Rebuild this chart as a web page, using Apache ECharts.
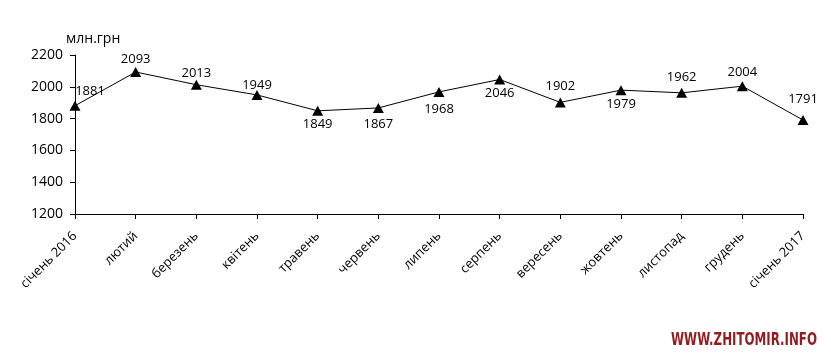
<!DOCTYPE html>
<html>
<head>
<meta charset="utf-8">
<script src="https://cdn.jsdelivr.net/npm/echarts@6/dist/echarts.min.js"></script>
<style>html,body{margin:0;padding:0;background:#fff}#c{width:831px;height:357px}</style>
</head>
<body>
<div id="c"></div>
<script>
const categories = ['січень 2016','лютий','березень','квітень','травень','червень','липень','серпень','вересень','жовтень','листопад','грудень','січень 2017'];
const values = [1881, 2093, 2013, 1949, 1849, 1867, 1968, 2046, 1902, 1979, 1962, 2004, 1791];
const yTicks = [1200, 1400, 1600, 1800, 2000, 2200];

// label placement styling (side of point and extra gap in px)
const labelSide = ['topright','top','top','top','bottom','bottom','bottom','bottom','top','bottom','top','top','top'];
const labelGap = [0, 1, 0, -2, 2, 5, 6, 2, 5, 3, 4, 2, 9];

const font = '"Open Sans", "Noto Sans", sans-serif';
const data = values.map((v, i) => {
  const p = labelSide[i];
  let label;
  if (p === 'topright') label = {position: 'top', offset: [15, 2]};
  else if (p === 'top') label = {position: 'top', distance: labelGap[i]};
  else label = {position: 'bottom', distance: labelGap[i]};
  return {value: v, label};
});

const chart = echarts.init(document.getElementById('c'));
chart.setOption({
  animation: false,
  backgroundColor: '#fff',
  title: {
    text: 'млн.грн', left: 61, top: 27,
    textStyle: {fontFamily: font, fontSize: 14, fontWeight: 'normal', color: '#000'}
  },
  grid: {left: 75, right: 28, top: 55, bottom: 143, containLabel: false},
  xAxis: {
    type: 'category', data: categories, boundaryGap: false,
    axisLine: {lineStyle: {color: '#000', width: 1}},
    axisTick: {show: true, length: 5, lineStyle: {color: '#000'}},
    axisLabel: {rotate: 45, interval: 0, margin: 20, fontFamily: font, fontSize: 13, color: '#000'}
  },
  yAxis: {
    type: 'value', min: yTicks[0], max: yTicks[yTicks.length - 1], interval: 200,
    axisLine: {show: true, lineStyle: {color: '#000', width: 1}},
    axisTick: {show: true, length: 5, lineStyle: {color: '#000'}},
    splitLine: {show: false},
    axisLabel: {margin: 12, fontFamily: font, fontSize: 14, color: '#000', formatter: v => String(v)}
  },
  series: [{
    type: 'line', data,
    symbol: 'triangle', symbolSize: [11, 10],
    itemStyle: {color: '#000'},
    lineStyle: {color: '#000', width: 1},
    label: {show: true, fontFamily: font, fontSize: 13, color: '#000'}
  }],
  graphic: [{
    type: 'text', x: 817, y: 349, scaleX: 0.73,
    style: {text: 'WWW.ZHITOMIR.INFO', align: 'right', verticalAlign: 'bottom',
      fontFamily: '"DejaVu Sans Condensed", "DejaVu Sans", sans-serif', fontWeight: 'bold', fontSize: 18, fill: '#921c1f'}
  }]
});
</script>
</body>
</html>
